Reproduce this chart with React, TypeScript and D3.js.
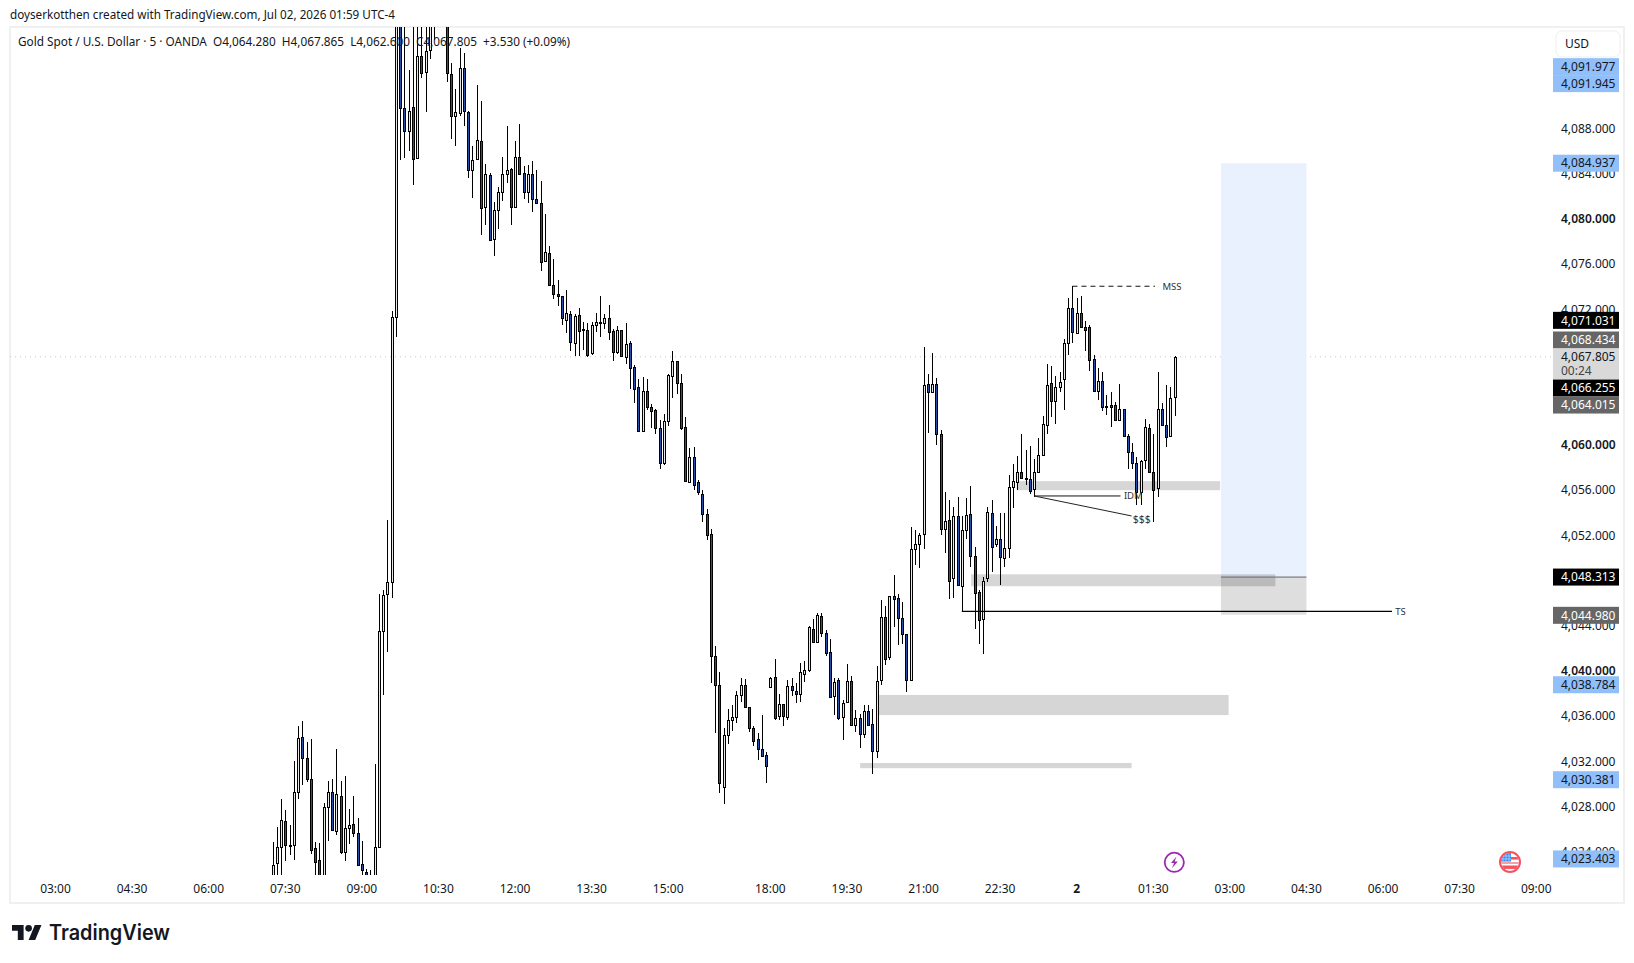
import * as d3 from 'd3';

const W = 1634;
const H = 963;

// 5 minute bars, 07:15 -> 16:55, then 18:00 -> 01:55 (bar index is the x domain)
const opens = [
  4021.0, 4023.0, 4024.4, 4026.7, 4024.6, 4024.6, 4029.3, 4034.2, 4032.3, 4030.4,
  4024.3, 4023.3, 4021.0, 4028.0, 4029.3, 4025.8, 4028.9, 4024.0, 4026.1, 4026.5,
  4025.7, 4022.9, 4022.2, 4021.0, 4021.0, 4024.4, 4043.5, 4046.8, 4047.9, 4071.3,
  4099, 4089.8, 4087.8, 4089.9, 4085.4, 4094.4, 4093.0, 4095.0, 4098, 4098,
  4099, 4098.5, 4092.8, 4089.1, 4089.4, 4093.4, 4089.5, 4084.3, 4085.3, 4086.9,
  4081.1, 4083.9, 4078.2, 4080.8, 4082.4, 4084.0, 4084.4, 4081.1, 4085.5, 4084.1,
  4082.4, 4084.0, 4081.8, 4081.4, 4076.3, 4077.0, 4074.2, 4073.4, 4073.2, 4071.1,
  4071.6, 4069.0, 4071.5, 4070.3, 4070.2, 4068.1, 4070.6, 4070.9, 4070.8, 4071.2,
  4070.1, 4068.2, 4070.2, 4067.8, 4069.0, 4066.9, 4065.1, 4061.2, 4064.8, 4063.4,
  4063.1, 4061.5, 4058.4, 4062.1, 4066.1, 4067.4, 4065.5, 4061.6, 4056.7, 4058.9,
  4056.7, 4055.7, 4053.9, 4052.1, 4041.3, 4038.8, 4029.7, 4034.3, 4035.7, 4035.9,
  4037.9, 4038.8, 4036.8, 4035.0, 4033.95, 4033.1, 4032.6, 4038.6, 4039.5, 4036.0,
  4037.05, 4035.9, 4038.7, 4038.2, 4038.0, 4039.76, 4040.1, 4043.7, 4042.6, 4044.9,
  4043.4, 4041.7, 4037.8, 4039.2, 4035.9, 4037.3, 4039.1, 4035.2, 4035.8, 4034.4,
  4036.5, 4035.3, 4032.95, 4039.2, 4044.8, 4041.2, 4046.6, 4046.5, 4044.7, 4043.3,
  4039.2, 4050.8, 4051.2, 4052.1, 4065.4, 4064.7, 4065.4, 4061.0, 4052.6, 4053.4,
  4048.2, 4053.7, 4047.55, 4052.5, 4053.9, 4050.2, 4047.0, 4044.6, 4048.2, 4054.0,
  4051.2, 4051.7, 4050.0, 4050.9, 4056.3, 4056.7, 4057.6, 4057.0, 4057.0, 4056.1,
  4057.6, 4059.1, 4061.8, 4065.5, 4063.9, 4065.1, 4065.8, 4069.0, 4072.1, 4069.9,
  4071.7, 4070.4, 4070.4, 4067.6, 4064.8, 4065.7, 4063.45, 4063.5, 4063.5, 4062.2,
  4063.15, 4060.8, 4059.35, 4058.4, 4055.8, 4058.7, 4061.5, 4057.6, 4056.2, 4063.15,
  4061.8, 4060.8, 4064.28,
];
const highs = [
  4024.9, 4026.2, 4028.7, 4027.7, 4026.4, 4032.0, 4035.1, 4035.6, 4033.7, 4034.0,
  4024.9, 4024.8, 4028.3, 4030.3, 4030.4, 4033.1, 4030.3, 4030.7, 4027.8, 4028.9,
  4027.0, 4025.0, 4022.5, 4022.4, 4031.8, 4046.8, 4047.2, 4053.4, 4071.9, 4100,
  4100, 4100, 4093.2, 4099, 4099, 4098, 4098, 4099, 4100, 4100,
  4100, 4099, 4093.8, 4091.5, 4095.1, 4094.7, 4089.6, 4086.5, 4091.9, 4090.4,
  4084.9, 4084.1, 4081.5, 4082.8, 4085.5, 4088.2, 4084.5, 4086.9, 4088.4, 4084.7,
  4084.8, 4085.1, 4084.3, 4083.4, 4080.4, 4077.6, 4076.5, 4074.6, 4073.2, 4073.7,
  4071.9, 4071.6, 4072.1, 4070.9, 4070.8, 4070.9, 4071.7, 4073.2, 4071.6, 4072.4,
  4070.3, 4070.5, 4070.2, 4070.8, 4069.2, 4067.1, 4065.8, 4066.0, 4065.8, 4063.6,
  4063.2, 4062.2, 4062.7, 4066.3, 4068.3, 4067.4, 4066.3, 4062.5, 4059.7, 4059.8,
  4056.9, 4056.0, 4054.3, 4052.6, 4042.2, 4039.9, 4035.0, 4036.6, 4037.0, 4038.2,
  4039.4, 4039.3, 4036.8, 4035.1, 4034.5, 4036.1, 4032.8, 4039.5, 4041.1, 4038.0,
  4037.1, 4039.2, 4039.4, 4038.9, 4040.7, 4040.85, 4044.0, 4044.6, 4045.1, 4045.1,
  4043.6, 4042.8, 4039.4, 4039.4, 4037.4, 4040.65, 4039.6, 4036.55, 4036.2, 4037.0,
  4037.0, 4036.6, 4040.4, 4046.3, 4045.75, 4046.6, 4048.5, 4046.8, 4046.1, 4043.3,
  4052.7, 4052.5, 4052.2, 4068.65, 4066.3, 4068.1, 4065.9, 4061.3, 4055.8, 4055.1,
  4054.55, 4055.4, 4053.7, 4055.3, 4056.4, 4050.95, 4047.2, 4048.3, 4054.55, 4055.1,
  4052.8, 4054.0, 4054.0, 4057.35, 4058.3, 4059.0, 4061.0, 4059.6, 4059.9, 4058.8,
  4060.65, 4062.6, 4067.2, 4067.0, 4066.1, 4066.5, 4069.35, 4073.0, 4074.1, 4073.0,
  4073.2, 4071.0, 4070.6, 4068.0, 4066.8, 4066.5, 4064.4, 4064.7, 4063.8, 4065.4,
  4063.2, 4061.0, 4060.15, 4058.9, 4058.7, 4062.3, 4061.9, 4061.0, 4066.5, 4063.7,
  4065.3, 4065.1, 4067.865,
];
const lows = [
  4020.0, 4020.5, 4020.5, 4023.2, 4023.7, 4023.3, 4028.7, 4029.9, 4030.2, 4023.8,
  4020.5, 4020.0, 4020.0, 4025.0, 4025.8, 4025.5, 4023.8, 4023.2, 4024.7, 4025.3,
  4022.7, 4021.0, 4020.5, 4020.0, 4020.0, 4024.4, 4037.9, 4041.7, 4046.5, 4069.6,
  4085.2, 4085.4, 4086.0, 4083.0, 4085.4, 4092.5, 4089.5, 4094.2, 4095.8, 4097.5,
  4097.5, 4092.1, 4087.1, 4086.5, 4089.1, 4088.2, 4083.6, 4081.9, 4085.2, 4078.6,
  4079.5, 4078.1, 4076.7, 4079.1, 4081.6, 4083.2, 4079.5, 4081.1, 4084.0, 4081.8,
  4081.4, 4080.6, 4081.4, 4075.4, 4076.3, 4074.1, 4072.9, 4072.3, 4070.6, 4069.9,
  4068.3, 4067.9, 4067.9, 4068.4, 4067.8, 4068.0, 4070.0, 4069.6, 4070.3, 4069.3,
  4067.4, 4068.05, 4067.9, 4067.2, 4065.0, 4063.7, 4061.2, 4061.2, 4063.1, 4061.5,
  4061.0, 4057.9, 4058.2, 4061.7, 4064.2, 4064.5, 4061.3, 4056.8, 4056.7, 4056.0,
  4055.6, 4053.2, 4051.6, 4038.9, 4034.5, 4029.2, 4028.2, 4033.5, 4034.7, 4035.4,
  4037.3, 4036.7, 4034.6, 4033.4, 4032.1, 4032.4, 4030.1, 4038.6, 4035.7, 4035.7,
  4035.1, 4035.7, 4037.8, 4037.2, 4037.3, 4039.05, 4039.9, 4042.6, 4042.6, 4043.0,
  4041.35, 4037.6, 4036.1, 4035.7, 4033.9, 4037.3, 4035.2, 4034.6, 4033.2, 4034.1,
  4035.1, 4030.9, 4032.3, 4038.8, 4040.5, 4041.0, 4043.9, 4042.3, 4042.4, 4038.1,
  4039.2, 4049.4, 4049.1, 4050.8, 4061.1, 4064.6, 4060.0, 4052.0, 4050.4, 4046.4,
  4046.5, 4047.6, 4045.28, 4051.7, 4049.2, 4043.7, 4042.4, 4041.5, 4047.9, 4048.8,
  4051.0, 4047.6, 4049.2, 4050.0, 4054.4, 4056.0, 4057.05, 4056.5, 4055.7, 4055.4,
  4057.6, 4059.1, 4061.0, 4062.5, 4061.9, 4064.7, 4063.1, 4068.0, 4069.05, 4069.8,
  4070.4, 4068.35, 4066.55, 4064.75, 4064.0, 4063.0, 4062.65, 4061.6, 4062.1, 4062.15,
  4060.7, 4057.9, 4057.9, 4054.7, 4054.65, 4057.85, 4057.6, 4053.2, 4055.4, 4061.8,
  4059.8, 4060.8, 4062.6,
];
const closes = [
  4022.8, 4024.4, 4026.8, 4024.6, 4024.5, 4029.3, 4034.1, 4032.3, 4030.4, 4024.2,
  4023.1, 4021.0, 4028.0, 4029.3, 4025.9, 4029.1, 4024.0, 4026.1, 4026.4, 4025.7,
  4022.8, 4022.4, 4021.0, 4020.5, 4024.4, 4043.5, 4046.7, 4047.9, 4071.3, 4098,
  4089.85, 4087.8, 4089.6, 4085.3, 4094.4, 4092.9, 4094.9, 4098, 4098.5, 4099,
  4098.5, 4092.9, 4089.1, 4089.5, 4093.4, 4089.6, 4084.3, 4085.2, 4087.0, 4081.0,
  4084.0, 4078.1, 4080.8, 4082.4, 4084.0, 4084.3, 4081.1, 4085.5, 4084.0, 4082.4,
  4084.0, 4081.8, 4081.4, 4076.2, 4077.1, 4074.2, 4073.4, 4073.2, 4071.2, 4071.7,
  4069.1, 4071.4, 4070.1, 4070.2, 4068.0, 4070.6, 4070.9, 4070.8, 4071.2, 4070.0,
  4068.2, 4070.2, 4067.9, 4068.9, 4066.8, 4065.0, 4061.2, 4064.8, 4063.4, 4063.0,
  4061.5, 4058.4, 4062.1, 4066.2, 4067.4, 4065.5, 4061.5, 4056.8, 4058.9, 4056.5,
  4055.8, 4053.9, 4052.0, 4041.3, 4038.8, 4030.1, 4034.3, 4035.7, 4035.9, 4037.9,
  4038.8, 4036.8, 4035.0, 4033.8, 4033.1, 4032.5, 4031.6, 4039.4, 4035.8, 4037.05,
  4036.0, 4038.7, 4038.35, 4038.0, 4039.9, 4040.06, 4043.9, 4042.6, 4045.0, 4043.4,
  4041.6, 4037.7, 4039.0, 4035.8, 4037.2, 4039.1, 4035.2, 4035.8, 4034.4, 4036.5,
  4035.25, 4032.9, 4039.1, 4044.8, 4041.1, 4046.6, 4046.4, 4044.7, 4043.3, 4039.2,
  4050.8, 4051.2, 4052.0, 4065.3, 4064.7, 4065.4, 4061.0, 4052.6, 4053.3, 4048.0,
  4053.7, 4047.6, 4052.5, 4053.8, 4050.2, 4046.9, 4044.5, 4048.0, 4054.1, 4051.0,
  4051.65, 4050.1, 4050.9, 4056.3, 4056.8, 4057.6, 4057.05, 4057.05, 4055.9, 4057.6,
  4059.1, 4061.9, 4065.3, 4063.9, 4065.1, 4065.6, 4069.0, 4072.1, 4070.0, 4071.7,
  4070.4, 4070.2, 4067.5, 4064.75, 4065.7, 4063.4, 4063.4, 4063.4, 4062.2, 4063.15,
  4060.8, 4059.35, 4058.4, 4055.8, 4058.6, 4061.6, 4057.6, 4056.05, 4063.2, 4061.8,
  4060.7, 4064.2, 4067.805,
];

const priceTicks = [4088, 4084, 4080, 4076, 4072, 4060, 4056, 4052, 4044, 4040, 4036, 4032, 4028, 4024];
const timeLabels = ['03:00', '04:30', '06:00', '07:30', '09:00', '10:30', '12:00', '13:30', '15:00', '18:00', '19:30', '21:00', '22:30', '2', '01:30', '03:00', '04:30', '06:00', '07:30', '09:00'];
const timeBars = [-51, -33, -15, 3, 21, 39, 57, 75, 93, 117, 135, 153, 171, 189, 207, 225, 243, 261, 279, 297];

// [from bar, to bar, top price, bottom price]
const zones: [number, number, number, number][] = [
  [174.9, 222.7, 4056.8, 4056.0],
  [164.2, 235.7, 4048.56, 4047.5],
  [142.2, 224.7, 4037.88, 4036.1],
  [138.1, 201.9, 4031.86, 4031.4],
];
const positionBars = [222.9, 243.0];
const positionPrices = [4084.937, 4048.313, 4044.98];
const lastPrice = 4067.805;

// price, second line, fill, text colour, dodge (px) from the scale position
const priceLabels: [string, string, string, string, number][] = [
  ['4,091.977', '', '#90bff9', '#131722', -17],
  ['4,091.945', '', '#90bff9', '#131722', -0.4],
  ['4,084.937', '', '#90bff9', '#131722', 0],
  ['4,071.031', '', '#000000', '#ffffff', 0],
  ['4,068.434', '', '#666666', '#ffffff', -9.7],
  ['4,067.805', '00:24', '#d9d9d9', '#131722', 0],
  ['4,066.255', '', '#000000', '#ffffff', 13.7],
  ['4,064.015', '', '#666666', '#ffffff', 5.4],
  ['4,048.313', '', '#000000', '#ffffff', 0],
  ['4,044.980', '', '#666666', '#ffffff', 0.6],
  ['4,038.784', '', '#90bff9', '#131722', 0],
  ['4,030.381', '', '#90bff9', '#131722', 0],
  ['4,023.403', '', '#90bff9', '#131722', 0.4],
];

const font = '"Noto Sans", sans-serif';
const paneLeft = 10;
const paneRight = 1553;
const paneTop = 27;
const paneBottom = 875;

const x = d3.scaleLinear().domain([0, 212]).range([272.5, 272.5 + 212 * 4.255]);
const y = d3.scaleLinear().domain([4060, 4080]).range([445, 445 - 20 * 11.3]);

export default function App() {
  const bars = d3.range(opens.length);
  const dollarLine = d3.line()([[x(179), y(4055.49)], [x(201.9), y(4053.72)]]) ?? '';

  return (
    <svg width={W} height={H} style={{ position: 'absolute', left: 0, top: 0, display: 'block', background: '#fff' }}>
      <defs>
        <clipPath id='pane'>
          <rect x={paneLeft} y={paneTop} width={paneRight - paneLeft} height={paneBottom - paneTop} />
        </clipPath>
      </defs>

      <text x={10} y={19} fontFamily={font} fontSize={12} fill='#131722' textLength={385} lengthAdjust='spacingAndGlyphs'>
        doyserkotthen created with TradingView.com, Jul 02, 2026 01:59 UTC-4
      </text>
      <rect x={10} y={27} width={1614} height={876} fill='none' stroke='#f0f0f0' strokeWidth={2} />

      <line x1={paneLeft} x2={paneRight} y1={y(lastPrice)} y2={y(lastPrice)} stroke='#c8c8c8' strokeWidth={1} strokeDasharray='1 4' />

      {/* position tool and zones sit under the candles */}
      <rect x={x(positionBars[0])} width={x(positionBars[1]) - x(positionBars[0])} y={y(positionPrices[0])} height={y(positionPrices[1]) - y(positionPrices[0])} fill='#e9f0fe' />
      <rect x={x(positionBars[0])} width={x(positionBars[1]) - x(positionBars[0])} y={y(positionPrices[1])} height={y(positionPrices[2]) - y(positionPrices[1])} fill='#dedede' />
      {zones.map((z, i) => (
        <rect key={i} x={x(z[0])} width={x(z[1]) - x(z[0])} y={y(z[2])} height={y(z[3]) - y(z[2])} fill='#000' fillOpacity={0.16} />
      ))}
      <line x1={x(positionBars[0])} x2={x(positionBars[1])} y1={y(positionPrices[1])} y2={y(positionPrices[1])} stroke='#666' strokeWidth={1} />

      <g clipPath='url(#pane)' shapeRendering='crispEdges'>
        {bars.map((i) => {
          const up = closes[i] >= opens[i];
          const top = Math.round(y(Math.max(opens[i], closes[i]))) + 0.5;
          const bottom = Math.round(y(Math.min(opens[i], closes[i]))) + 0.5;
          const cx = Math.round(x(i)) + 0.5;
          return (
            <g key={i}>
              <line x1={cx} x2={cx} y1={y(highs[i])} y2={y(lows[i])} stroke='#000' strokeWidth={1} />
              <rect x={cx - 1} width={2} y={top} height={Math.max(bottom - top, 1)} fill={up ? '#e8e8e8' : '#2450a8'} stroke='#000' strokeWidth={1} />
            </g>
          );
        })}
      </g>

      {/* drawings */}
      <line x1={x(188)} x2={x(207.4)} y1={y(4074.05)} y2={y(4074.05)} stroke='#111' strokeWidth={1} strokeDasharray='5 4' />
      <text x={x(211.4)} y={y(4074.05)} dy='0.35em' textAnchor='middle' fontFamily={font} fontSize={9.5} fill='#333'>MSS</text>
      <line x1={x(179)} x2={x(199.3)} y1={y(4055.49)} y2={y(4055.49)} stroke='#111' strokeWidth={1} />
      <text x={x(202.3)} y={y(4055.49)} dy='0.35em' textAnchor='middle' fontFamily={font} fontSize={9.5} fill='#333'>IDM</text>
      <path d={dollarLine} stroke='#222' strokeWidth={1} fill='none' />
      <text x={x(204.3)} y={y(4053.45)} dy='0.35em' textAnchor='middle' fontFamily={font} fontSize={10.5} fill='#333'>$$$</text>
      <line x1={x(162)} x2={x(263.1)} y1={y(4045.28)} y2={y(4045.28)} stroke='#000' strokeWidth={1.2} />
      <text x={x(265.1)} y={y(4045.28)} dy='0.35em' textAnchor='middle' fontFamily={font} fontSize={9.5} fill='#333'>TS</text>

      <text x={18} y={46} fontFamily={font} fontSize={12} fill='#131722' textLength={552} lengthAdjust='spacingAndGlyphs' xmlSpace='preserve'>
        Gold Spot / U.S. Dollar · 5 · OANDA  O4,064.280  H4,067.865  L4,062.600  C4,067.805  +3.530 (+0.09%)
      </text>

      {/* price scale */}
      {priceTicks.map((t) => (
        <text key={t} x={1561} y={y(t)} dy='0.35em' fontFamily={font} fontSize={12} fontWeight={t % 20 === 0 ? 600 : 400} fill='#131722'>
          {d3.format(',.3f')(t)}
        </text>
      ))}
      {priceLabels.map(([label, sub, fill, color, dodge]) => {
        const cy = y(+label.replace(',', '')) + dodge;
        return (
          <g key={label}>
            <rect x={1553} width={66} y={cy - 8.5} height={sub ? 31 : 17} fill={fill} />
            <text x={1561} y={cy} dy='0.35em' fontFamily={font} fontSize={12} fill={color}>{label}</text>
            {sub ? <text x={1561} y={cy + 14} dy='0.35em' fontFamily={font} fontSize={12} fill='#444'>{sub}</text> : null}
          </g>
        );
      })}
      <rect x={1556} y={31} width={64} height={26} rx={6} fill='#fff' stroke='#eeeeee' />
      <text x={1565} y={44} dy='0.35em' fontFamily={font} fontSize={12} fill='#131722'>USD</text>

      {/* time scale */}
      {timeBars.map((b, i) => (
        <text key={i} x={x(b)} y={889} dy='0.35em' textAnchor='middle' fontFamily={font} fontSize={12} fontWeight={timeLabels[i] === '2' ? 700 : 400} fill='#131722'>
          {timeLabels[i]}
        </text>
      ))}

      {/* event icons */}
      <circle cx={1174.3} cy={862.3} r={9.6} fill='#fff' stroke='#9c27b0' strokeWidth={1.8} />
      <path d='M1176.5 856.5 l-5.5 6.6 h3.2 l-2.2 5.2 l5.8 -6.8 h-3.2 z' fill='#9c27b0' />
      <g>
        <clipPath id='flag'><circle cx={1510} cy={862} r={9} /></clipPath>
        <circle cx={1510} cy={862} r={10} fill='#fff' stroke='#f7525f' strokeWidth={2} />
        <g clipPath='url(#flag)'>
          <rect x={1500} y={857} width={20} height={2.6} fill='#f7525f' />
          <rect x={1500} y={862} width={20} height={2} fill='#f7a0a8' />
          <rect x={1500} y={865.5} width={20} height={3.4} fill='#f7525f' />
          <rect x={1500} y={852} width={11} height={9.5} fill='#2f8cf0' />
          <path d='M1503 854v7M1506 854v7M1509 854v7M1500 856h11M1500 859h11' stroke='#bcdcff' strokeWidth={0.7} />
        </g>
      </g>

      {/* logo */}
      <g transform='translate(12 921.7) scale(0.83)' fill='#131722'>
        <path d='M14 22H7V11H0V4h14v18ZM28 22h-8l7.5-18h8L28 22Z' />
        <circle cx={20} cy={8} r={4} />
      </g>
      <text x={49} y={940} fontFamily='Inter, sans-serif' fontSize={21} fontWeight={600} fill='#131722' textLength={121} lengthAdjust='spacingAndGlyphs'>TradingView</text>
    </svg>
  );
}
